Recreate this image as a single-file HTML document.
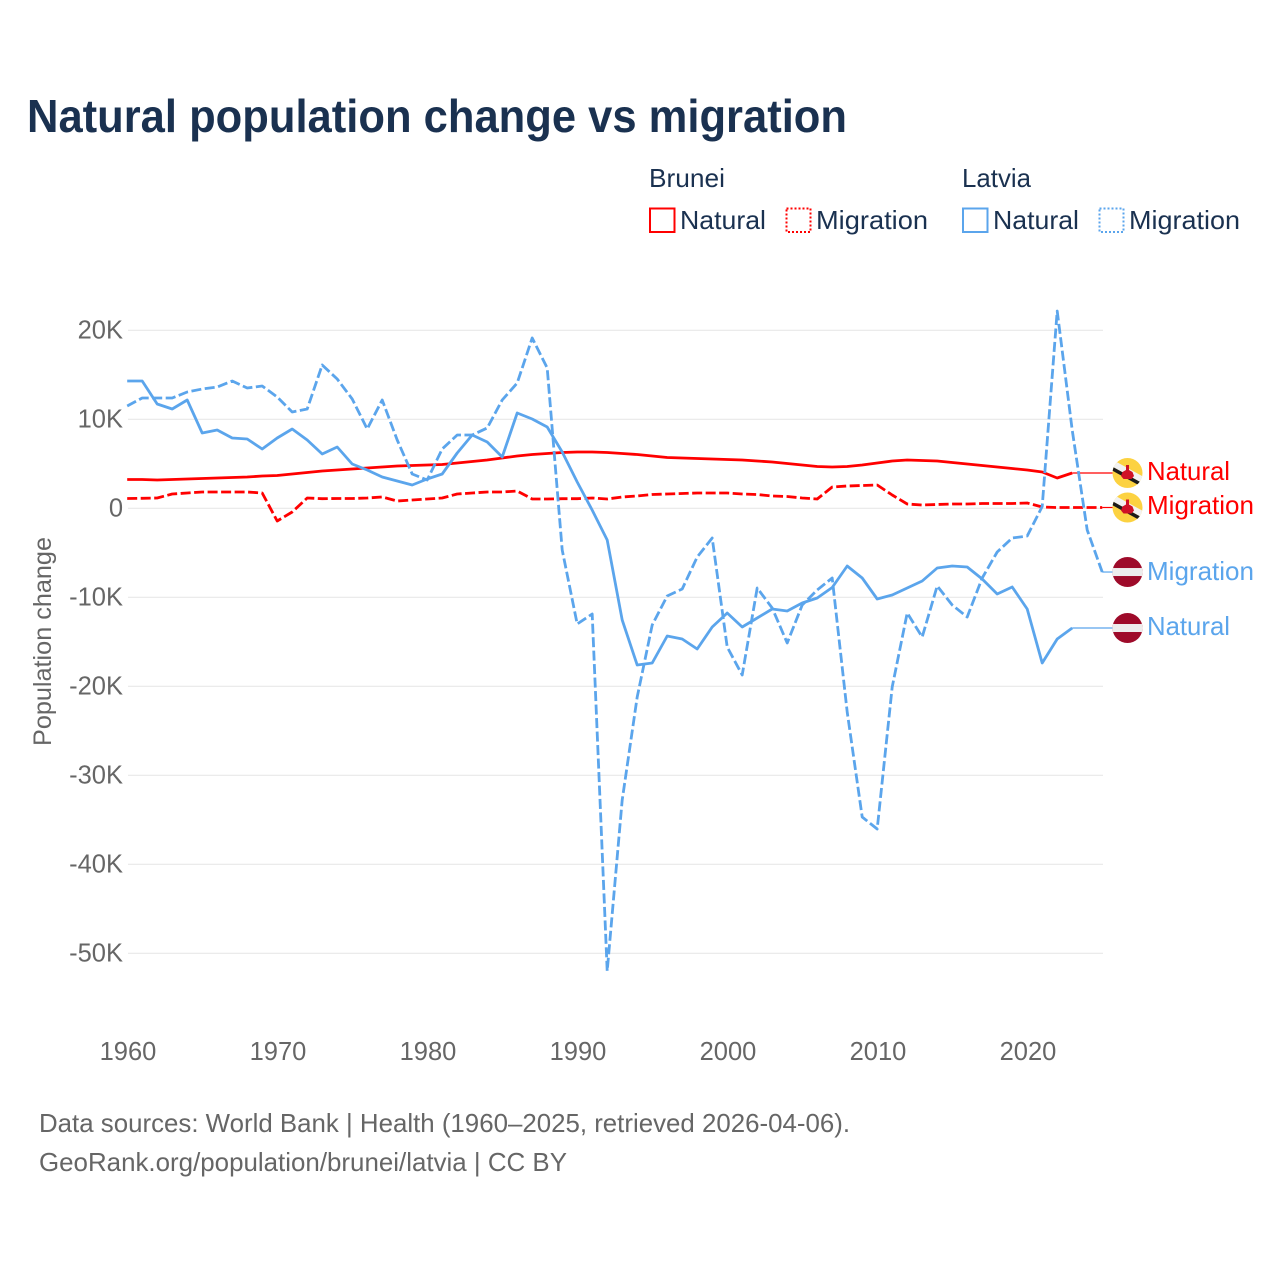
<!DOCTYPE html>
<html lang="en">
<head>
<meta charset="utf-8">
<title>Natural population change vs migration</title>
<style>
html,body{margin:0;padding:0;background:#fff;}
svg{display:block;font-family:"Liberation Sans",sans-serif;}
</style>
</head>
<body>
<svg id="chart" width="1280" height="1280" viewBox="0 0 1280 1280" xmlns="http://www.w3.org/2000/svg">
  <defs>
    <clipPath id="flag-clip"><circle cx="0" cy="0" r="15"></circle></clipPath>
  </defs>
  <rect x="0" y="0" width="1280" height="1280" fill="#ffffff"></rect>

  <text x="27" y="132" font-size="46" font-weight="700" fill="#1a3150" textLength="820" lengthAdjust="spacingAndGlyphs">Natural population change vs migration</text>

  <g font-size="26" fill="#1a3150">
    <text x="649" y="187" textLength="76" lengthAdjust="spacingAndGlyphs">Brunei</text>
    <text x="962" y="187" textLength="69" lengthAdjust="spacingAndGlyphs">Latvia</text>
    <rect x="650" y="208.5" width="24.5" height="23.5" fill="none" stroke="#ff0000" stroke-width="2"></rect>
    <text x="680" y="229" textLength="86" lengthAdjust="spacingAndGlyphs">Natural</text>
    <rect x="786.5" y="208.5" width="24" height="23.5" fill="none" stroke="#ff0000" stroke-width="2" stroke-dasharray="2 2"></rect>
    <text x="816" y="229" textLength="112" lengthAdjust="spacingAndGlyphs">Migration</text>
    <rect x="963" y="208.5" width="24.5" height="23.5" fill="none" stroke="#5ba5ec" stroke-width="2"></rect>
    <text x="993" y="229" textLength="86" lengthAdjust="spacingAndGlyphs">Natural</text>
    <rect x="1099.5" y="208.5" width="24" height="23.5" fill="none" stroke="#5ba5ec" stroke-width="2" stroke-dasharray="2 2"></rect>
    <text x="1129" y="229" textLength="111" lengthAdjust="spacingAndGlyphs">Migration</text>
  </g>

  <g id="grid"></g>
  <g id="y-ticks"></g>
  <g id="x-ticks"></g>
  <text transform="translate(51,746) rotate(-90)" font-size="25" fill="#666666" textLength="209" lengthAdjust="spacingAndGlyphs">Population change</text>
  <g id="series"></g>
  <g id="flags"></g>

  <g font-size="26">
    <text x="1147" y="480" fill="#ff0000" textLength="83" lengthAdjust="spacingAndGlyphs">Natural</text>
    <text x="1147" y="514" fill="#ff0000" textLength="107" lengthAdjust="spacingAndGlyphs">Migration</text>
    <text x="1147" y="580" fill="#5ba5ec" textLength="107" lengthAdjust="spacingAndGlyphs">Migration</text>
    <text x="1147" y="635" fill="#5ba5ec" textLength="83" lengthAdjust="spacingAndGlyphs">Natural</text>
  </g>

  <g font-size="26" fill="#666666">
    <text x="39" y="1132" textLength="811" lengthAdjust="spacingAndGlyphs">Data sources: World Bank | Health (1960–2025, retrieved 2026-04-06).</text>
    <text x="39" y="1171" textLength="528" lengthAdjust="spacingAndGlyphs">GeoRank.org/population/brunei/latvia | CC BY</text>
  </g>
</svg>

<script>
var startYear = 1960;
var xTickYears = [1960, 1970, 1980, 1990, 2000, 2010, 2020];
var yTickValues = [20, 10, 0, -10, -20, -30, -40, -50];
var yTickLabels = ["20K", "10K", "0", "-10K", "-20K", "-30K", "-40K", "-50K"];

var bruneiNatural = [3.24,3.24,3.18,3.24,3.29,3.35,3.40,3.46,3.52,3.63,
  3.69,3.85,4.02,4.19,4.30,4.42,4.53,4.64,4.75,4.81,
  4.87,4.92,5.09,5.26,5.43,5.65,5.88,6.04,6.16,6.27,
  6.33,6.33,6.27,6.16,6.04,5.88,5.71,5.65,5.60,5.54,
  5.48,5.43,5.31,5.20,5.03,4.87,4.70,4.64,4.70,4.87,
  5.09,5.31,5.43,5.37,5.31,5.15,4.98,4.81,4.64,4.47,
  4.30,4.08,3.40,3.97];

var bruneiMigration = [1.10,1.12,1.16,1.61,1.72,1.83,1.83,1.83,1.83,1.72,
  -1.43,-0.42,1.16,1.08,1.10,1.10,1.16,1.27,0.82,0.93,
  1.05,1.16,1.61,1.72,1.83,1.83,1.94,1.05,1.05,1.08,
  1.08,1.16,1.05,1.27,1.38,1.55,1.61,1.66,1.72,1.72,
  1.72,1.61,1.55,1.38,1.33,1.16,1.05,2.39,2.51,2.56,
  2.62,1.49,0.48,0.37,0.43,0.48,0.48,0.54,0.54,0.54,
  0.60,0.15,0.09,0.09,0.09,0.09];

var latviaNatural = [14.30,14.30,11.72,11.16,12.17,8.46,8.80,7.90,7.79,6.66,
  7.90,8.91,7.67,6.10,6.89,4.98,4.30,3.52,3.07,2.62,
  3.29,3.85,6.21,8.24,7.45,5.76,10.71,10.03,9.13,6.33,
  2.96,-0.20,-3.56,-12.55,-17.61,-17.38,-14.35,-14.69,-15.81,-13.34,
  -11.76,-13.34,-12.33,-11.31,-11.54,-10.64,-10.08,-8.90,-6.48,-7.83,
  -10.19,-9.74,-8.96,-8.17,-6.71,-6.48,-6.60,-7.94,-9.63,-8.84,
  -11.31,-17.38,-14.69,-13.45];

var latviaMigration = [11.49,12.39,12.39,12.39,13.07,13.40,13.63,14.30,13.52,13.74,
  12.51,10.82,11.16,16.10,14.53,12.28,8.91,12.17,7.67,3.85,
  3.18,6.66,8.24,8.24,9.02,12.17,14.08,19.13,15.76,-4.69,
  -13.00,-11.88,-51.99,-32.78,-21.20,-13.11,-9.85,-9.07,-5.47,-3.34,
  -15.58,-18.73,-8.96,-11.20,-15.13,-10.87,-9.18,-7.83,-22.89,-34.69,
  -36.03,-20.08,-11.76,-14.46,-8.73,-10.87,-12.21,-7.83,-4.91,-3.34,
  -3.11,0.20,22.17,8.80,-2.44,-7.16];

var SVG_NS = "http://www.w3.org/2000/svg";
var RED = "#ff0000";
var BLUE = "#5ba5ec";
var FLAG_X = 1127.5;

function xScale(year) { return 127.2 + (year - 1960) * 15; }
function yScale(value) { return 508.3 - value * 8.9; }
function make(tag) { return document.createElementNS(SVG_NS, tag); }

var gridGroup = document.getElementById("grid");
var yTickGroup = document.getElementById("y-ticks");
var xTickGroup = document.getElementById("x-ticks");
var seriesGroup = document.getElementById("series");
var flagGroup = document.getElementById("flags");

yTickValues.forEach(function (value, i) {
  var line = make("line");
  
  
  line.setAttribute("x1", 128);
  line.setAttribute("x2", 1103);
  line.setAttribute("y1", yScale(value));
  line.setAttribute("y2", yScale(value));
  line.setAttribute("stroke", "#e8e8e8");
  line.setAttribute("stroke-width", "1.2");
  gridGroup.appendChild(line);

  var label = make("text");
  
  
  label.setAttribute("x", 123);
  label.setAttribute("y", yScale(value) + 8);
  label.setAttribute("text-anchor", "end");
  label.setAttribute("font-size", "25.5");
  label.setAttribute("fill", "#666666");
  label.textContent = yTickLabels[i];
  yTickGroup.appendChild(label);
});

xTickYears.forEach(function (year) {
  var label = make("text");
  
  
  label.setAttribute("x", xScale(year) + 0.8);
  label.setAttribute("y", 1060);
  label.setAttribute("text-anchor", "middle");
  label.setAttribute("font-size", "25.5");
  label.setAttribute("fill", "#666666");
  label.textContent = String(year);
  xTickGroup.appendChild(label);
});

function drawSeries(values, color, dashed, seriesName) {
  var points = values.map(function (value, i) {
    return xScale(startYear + i).toFixed(1) + "," + yScale(value).toFixed(1);
  }).join(" ");
  var path = make("polyline");
  
  
  path.setAttribute("points", points);
  path.setAttribute("fill", "none");
  path.setAttribute("stroke", color);
  path.setAttribute("stroke-width", "2.8");
  path.setAttribute("stroke-linejoin", "round");
  if (dashed) { path.setAttribute("stroke-dasharray", "10 3.5"); }
  seriesGroup.appendChild(path);

  var lastIndex = values.length - 1;
  var connector = make("line");
  
  
  connector.setAttribute("x1", xScale(startYear + lastIndex));
  connector.setAttribute("x2", FLAG_X - 15);
  connector.setAttribute("y1", yScale(values[lastIndex]));
  connector.setAttribute("y2", yScale(values[lastIndex]));
  connector.setAttribute("stroke", color);
  connector.setAttribute("stroke-width", "1.2");
  seriesGroup.appendChild(connector);
}

function shape(parent, tag, attrs) {
  var el = make(tag);
  Object.keys(attrs).forEach(function (key) { el.setAttribute(key, attrs[key]); });
  parent.appendChild(el);
  return el;
}

function bruneiFlag(value) {
  var g = make("g");
  
  
  g.setAttribute("transform", "translate(" + FLAG_X + "," + yScale(value) + ")");
  var clip = make("g");
  clip.setAttribute("clip-path", "url(#flag-clip)");
  shape(clip, "rect", {x: -15, y: -15, width: 30, height: 30, fill: "#fcd241"});
  shape(clip, "polygon", {points: "-20,-16 -20,-9 20,13 20,6", fill: "#f2f2f2"});
  shape(clip, "polygon", {points: "-20,-9 -20,-5 20,17 20,13", fill: "#1b1b1b"});
  shape(clip, "polygon", {points: "-1.5,-8 1.5,-8 1.5,-3 5,-1 6.5,3 4,6 -4,6 -6.5,3 -5,-1 -1.5,-3", fill: "#cf1126"});
  g.appendChild(clip);
  flagGroup.appendChild(g);
}

function latviaFlag(value) {
  var g = make("g");
  
  
  g.setAttribute("transform", "translate(" + FLAG_X + "," + yScale(value) + ")");
  var clip = make("g");
  clip.setAttribute("clip-path", "url(#flag-clip)");
  shape(clip, "rect", {x: -15, y: -15, width: 30, height: 30, fill: "#9e0b2a"});
  shape(clip, "rect", {x: -15, y: -4, width: 30, height: 8, fill: "#ededed"});
  g.appendChild(clip);
  flagGroup.appendChild(g);
}

drawSeries(bruneiNatural, RED, false, "brunei-natural-line");
drawSeries(bruneiMigration, RED, true, "brunei-migration-line");
drawSeries(latviaNatural, BLUE, false, "latvia-natural-line");
drawSeries(latviaMigration, BLUE, true, "latvia-migration-line");

bruneiFlag(bruneiNatural[bruneiNatural.length - 1]);
bruneiFlag(bruneiMigration[bruneiMigration.length - 1]);
latviaFlag(latviaMigration[latviaMigration.length - 1]);
latviaFlag(latviaNatural[latviaNatural.length - 1]);
</script>
</body>
</html>
